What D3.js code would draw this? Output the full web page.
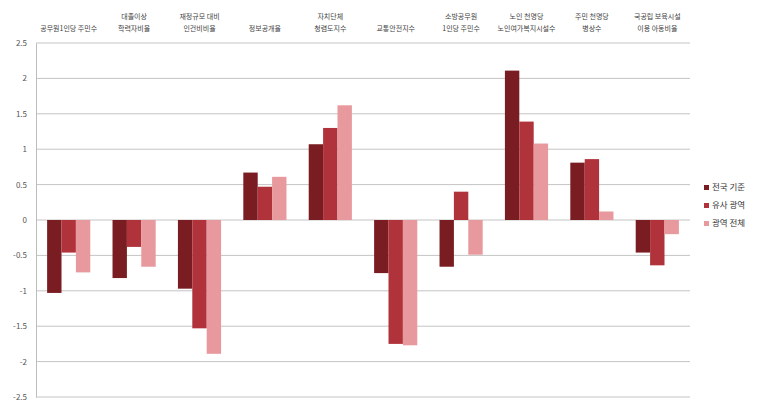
<!DOCTYPE html>
<html>
<head>
<meta charset="utf-8">
<script src="https://cdn.jsdelivr.net/npm/d3@7"></script>
<style>
  body { margin: 0; background: #fff; }
  text { font-family: "Noto Sans CJK KR", "Noto Sans", sans-serif; }
</style>
</head>
<body>
<div id="chart"></div>
<script>
var categories = [
    ["공무원1인당 주민수"],
    ["대졸이상", "학력자비율"],
    ["재정규모 대비", "인건비비율"],
    ["정보공개율"],
    ["자치단체", "청렴도지수"],
    ["교통안전지수"],
    ["소방공무원", "1인당 주민수"],
    ["노인 천명당", "노인여가복지시설수"],
    ["주민 천명당", "병상수"],
    ["국공립 보육시설", "이용 아동비율"]
];
var seriesNames = ["전국 기준", "유사 광역", "광역 전체"];
var nationalValues = [-1.03, -0.82, -0.97, 0.67, 1.07, -0.75, -0.66, 2.11, 0.81, -0.46];
var similarValues = [-0.46, -0.38, -1.53, 0.47, 1.30, -1.75, 0.40, 1.39, 0.86, -0.64];
var allValues = [-0.74, -0.66, -1.89, 0.61, 1.62, -1.77, -0.49, 1.08, 0.12, -0.20];
var yTicks = [2.5, 2, 1.5, 1, 0.5, 0, -0.5, -1, -1.5, -2, -2.5];

(function () {
    'use strict';
    var width = 759, height = 403,
        plotLeft = 36, plotRight = 690, plotTop = 43, plotBottom = 397,
        colors = ["#7a1d22", "#b0323a", "#e8999d"],
        series = [nationalValues, similarValues, allValues];

    var svg = d3.select("#chart").append("svg")
        .attr("width", width)
        .attr("height", height);

    var x = d3.scaleBand()
        .domain(d3.range(categories.length))
        .range([plotLeft, plotRight])
        .paddingInner(0.34)
        .paddingOuter(0.17);

    var xs = d3.scaleBand()
        .domain(d3.range(series.length))
        .range([0, x.bandwidth()]);

    var y = d3.scaleLinear()
        .domain([-2.5, 2.5])
        .range([plotBottom, plotTop]);

    // grid
    svg.append("g")
        .selectAll("line")
        .data(yTicks)
        .enter().append("line")
        .attr("x1", plotLeft)
        .attr("x2", plotRight)
        .attr("y1", function (d) { return y(d); })
        .attr("y2", function (d) { return y(d); })
        .style("stroke", "#c4c4c4")
        .style("stroke-width", 1);

    var yAxis = svg.append("g")
        .attr("transform", "translate(" + plotLeft + ",0)")
        .call(d3.axisLeft(y).tickValues(yTicks).tickSize(0).tickPadding(9)
            .tickFormat(function (d) { return String(d); }));
    yAxis.select(".domain").style("stroke", "#bdbdbd");
    yAxis.selectAll("text")
        .style("font-size", "8px")
        .style("fill", "#555");

    // bars
    series.forEach(function (vals, s) {
        svg.append("g")
            .selectAll("rect")
            .data(vals)
            .enter().append("rect")
            .attr("x", function (d, i) { return x(i) + xs(s); })
            .attr("width", xs.bandwidth())
            .attr("y", function (d) { return y(Math.max(0, d)); })
            .attr("height", function (d) { return Math.abs(y(d) - y(0)); })
            .style("fill", colors[s]);
    });

    // category labels at the top
    var labels = svg.append("g")
        .selectAll("text")
        .data(categories)
        .enter().append("text")
        .attr("text-anchor", "middle")
        .style("font-size", "7px")
        .style("fill", "#444");

    labels.each(function (d, i) {
        var t = d3.select(this),
            cx = x(i) + x.bandwidth() / 2,
            startY = 31 - (d.length - 1) * 12;
        d.forEach(function (line, k) {
            t.append("tspan")
                .attr("x", cx)
                .attr("y", startY + k * 12)
                .text(line);
        });
    });

    // legend
    var legend = svg.append("g")
        .selectAll("g")
        .data(seriesNames)
        .enter().append("g")
        .attr("transform", function (d, i) { return "translate(704," + (190 + i * 18) + ")"; });

    legend.append("rect")
        .attr("width", 5)
        .attr("height", 5)
        .attr("y", -5)
        .style("fill", function (d, i) { return colors[i]; });

    legend.append("text")
        .attr("x", 8)
        .style("font-size", "8.5px")
        .style("fill", "#333")
        .text(function (d) { return d; });
}());
</script>
</body>
</html>
